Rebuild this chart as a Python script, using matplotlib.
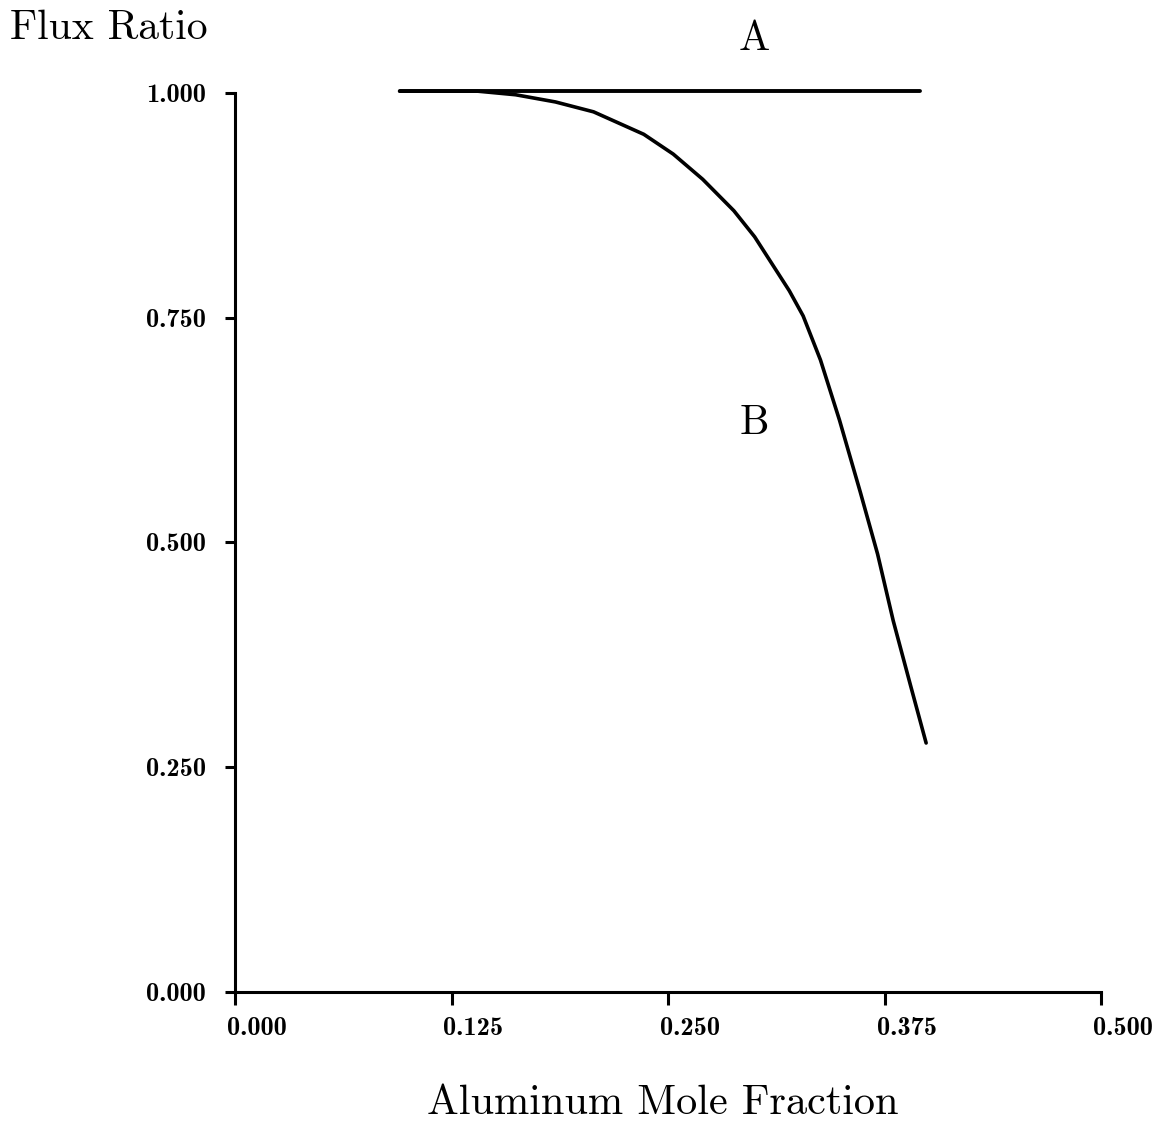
import numpy as np
import matplotlib
matplotlib.use('Agg')
import matplotlib.pyplot as plt
from matplotlib.transforms import ScaledTranslation

# curve A : flat line
x_a = [0.095, 0.3955]
y_a = [1.002, 1.002]

# curve B
x_b = [0.095, 0.140, 0.162, 0.185, 0.207, 0.236, 0.253, 0.270, 0.288, 0.300,
       0.310, 0.320, 0.328, 0.338, 0.349, 0.361, 0.371, 0.380, 0.390, 0.399]
y_b = [1.002, 1.002, 0.998, 0.990, 0.979, 0.954, 0.932, 0.904, 0.869, 0.840,
       0.810, 0.780, 0.752, 0.703, 0.636, 0.556, 0.487, 0.413, 0.341, 0.277]

xticks = [0.0, 0.125, 0.25, 0.375, 0.5]
yticks = [0.0, 0.25, 0.5, 0.75, 1.0]
xlabels = ['0.000', '0.125', '0.250', '0.375', '0.500']
ylabels = ['0.000', '0.250', '0.500', '0.750', '1.000']

fig = plt.figure(figsize=(11.6, 11.24), dpi=100)
ax = fig.add_axes([0.2026, 0.1174, 0.7466, 0.7999])

ax.plot(x_a, y_a, color='black', lw=2.8, clip_on=False, solid_capstyle='round')
ax.plot(x_b, y_b, color='black', lw=2.6, clip_on=False, solid_capstyle='round',
        solid_joinstyle='round')

ax.set_xlim(0, 0.5)
ax.set_ylim(0, 1.0)
for s in ['top', 'right']:
    ax.spines[s].set_visible(False)
for s in ['left', 'bottom']:
    ax.spines[s].set_linewidth(2.2)

ax.set_xticks(xticks)
ax.set_xticklabels(xlabels, fontfamily='cmb10', fontsize=19)
ax.set_yticks(yticks)
ax.set_yticklabels(ylabels, fontfamily='cmb10', fontsize=19)
ax.tick_params(axis='x', direction='out', length=9, width=2.2, pad=9)
ax.tick_params(axis='y', direction='out', length=7, width=2.2, pad=14)

# x tick labels sit a bit right of their ticks
off = ScaledTranslation(22 / 100, 0, fig.dpi_scale_trans)
for lab in ax.get_xticklabels():
    lab.set_transform(lab.get_transform() + off)

fig.text(10 / 1160, 1 - 28 / 1124, 'Flux Ratio', fontfamily='cmr10', fontsize=30,
         ha='left', va='center')
fig.text(663 / 1160, 1 - 1103 / 1124, 'Aluminum Mole Fraction', fontfamily='cmr10',
         fontsize=30.5, ha='center', va='center')
ax.text(0.300, 1.06, 'A', fontfamily='cmr10', fontsize=30, ha='center', va='center')
ax.text(0.300, 0.633, 'B', fontfamily='cmr10', fontsize=30, ha='center', va='center')

plt.savefig('out.png', dpi=100)
